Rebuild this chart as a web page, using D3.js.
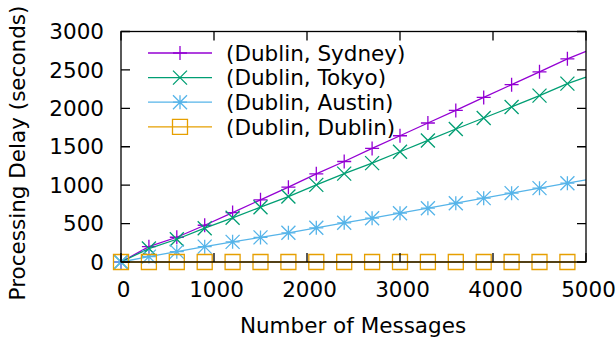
<!DOCTYPE html>
<html><head><meta charset="utf-8">
<script src="https://cdn.jsdelivr.net/npm/d3@7"></script>
<style>body{margin:0;background:#fff}svg{display:block}text{font-family:"DejaVu Sans",sans-serif;fill:#000}</style>
</head><body><svg id="c" width="616" height="339"></svg>
<script>
const messages = [0,300,600,900,1200,1500,1800,2100,2400,2700,3000,3300,3600,3900,4200,4500,4800,5000];
const sydney = [0,200,322,478,643,809,974,1148,1308,1478,1643,1809,1973,2142,2308,2475,2644,2740];
const tokyo  = [0,175,296,440,575,713,852,1004,1150,1287,1435,1582,1731,1874,2018,2165,2322,2405];
const austin = [0,70,135,200,262,320,380,445,510,570,635,700,765,831,896,961,1026,1070];
const dublin = [0,0,0,0,0,0,0,0,0,0,0,0,0,0,0,0,0,0];
const seriesNames = ["(Dublin, Sydney)","(Dublin, Tokyo)","(Dublin, Austin)","(Dublin, Dublin)"];
const xTicks = [0,1000,2000,3000,4000,5000];
const yTicks = [0,500,1000,1500,2000,2500,3000];
const colors = ["#9400d3","#009e73","#56b4e9","#e69f00"];
const symbols = ["plus","cross","star","square"];
const series = [sydney,tokyo,austin,dublin];

const svg = d3.select("#c");
const L=121,R=586,T=31.5,B=262;
const x = d3.scaleLinear().domain([0,5000]).range([L,R]);
const y = d3.scaleLinear().domain([0,3000]).range([B,T]);
const fs = 21.5;

function marker(g, type, cx, cy, color){
  const s = type==="square" ? 7.5 : 7;
  const p = g.append("path").attr("fill","none").attr("stroke",color).attr("stroke-width",1.3);
  let d="";
  if(type==="plus") d=`M${cx-s},${cy}H${cx+s}M${cx},${cy-s}V${cy+s}`;
  else if(type==="cross") d=`M${cx-s},${cy-s}L${cx+s},${cy+s}M${cx-s},${cy+s}L${cx+s},${cy-s}`;
  else if(type==="star") d=`M${cx-s},${cy}H${cx+s}M${cx},${cy-s}V${cy+s}M${cx-s},${cy-s}L${cx+s},${cy+s}M${cx-s},${cy+s}L${cx+s},${cy-s}`;
  else if(type==="square") d=`M${cx-s},${cy-s}h${2*s}v${2*s}h${-2*s}Z`;
  p.attr("d",d);
}

// series
const line = d3.line().x((d,i)=>x(messages[i])).y(d=>y(d));
series.forEach((vals,k)=>{
  const g = svg.append("g");
  g.append("path").datum(vals).attr("d",line).attr("fill","none").attr("stroke",colors[k]).attr("stroke-width",1.3);
  vals.forEach((v,i)=>{ if(messages[i]%300===0) marker(g,symbols[k],x(messages[i]),y(v),colors[k]); });
});

// border and ticks
const tl=9;
const ax = svg.append("g").attr("stroke","#000").attr("stroke-width",1.3).attr("fill","none");
ax.append("rect").attr("x",L).attr("y",T).attr("width",R-L).attr("height",B-T);
xTicks.forEach(t=>{
  ax.append("path").attr("d",`M${x(t)},${B}v${-tl}M${x(t)},${T}v${tl}`);
  svg.append("text").attr("x",x(t)+2.5).attr("y",297).attr("text-anchor","middle").attr("font-size",fs).text(t);
});
yTicks.forEach(t=>{
  ax.append("path").attr("d",`M${L},${y(t)}h${tl}M${R},${y(t)}h${-tl}`);
  svg.append("text").attr("x",104).attr("y",y(t)).attr("dy","0.36em").attr("text-anchor","end").attr("font-size",fs).text(t);
});

// legend
seriesNames.forEach((n,k)=>{
  const ly = 53 + k*24.6;
  const g = svg.append("g");
  g.append("line").attr("x1",148).attr("x2",212).attr("y1",ly).attr("y2",ly).attr("stroke",colors[k]).attr("stroke-width",1.3);
  marker(g,symbols[k],180,ly,colors[k]);
  svg.append("text").attr("x",226).attr("y",ly).attr("dy","0.36em").attr("font-size",fs).text(n);
});

// axis titles
svg.append("text").attr("x",353).attr("y",333).attr("text-anchor","middle").attr("font-size",fs).text("Number of Messages");
svg.append("text").attr("transform","translate(25,153) rotate(-90)").attr("text-anchor","middle").attr("font-size",fs).text("Processing Delay (seconds)");
</script></body></html>
